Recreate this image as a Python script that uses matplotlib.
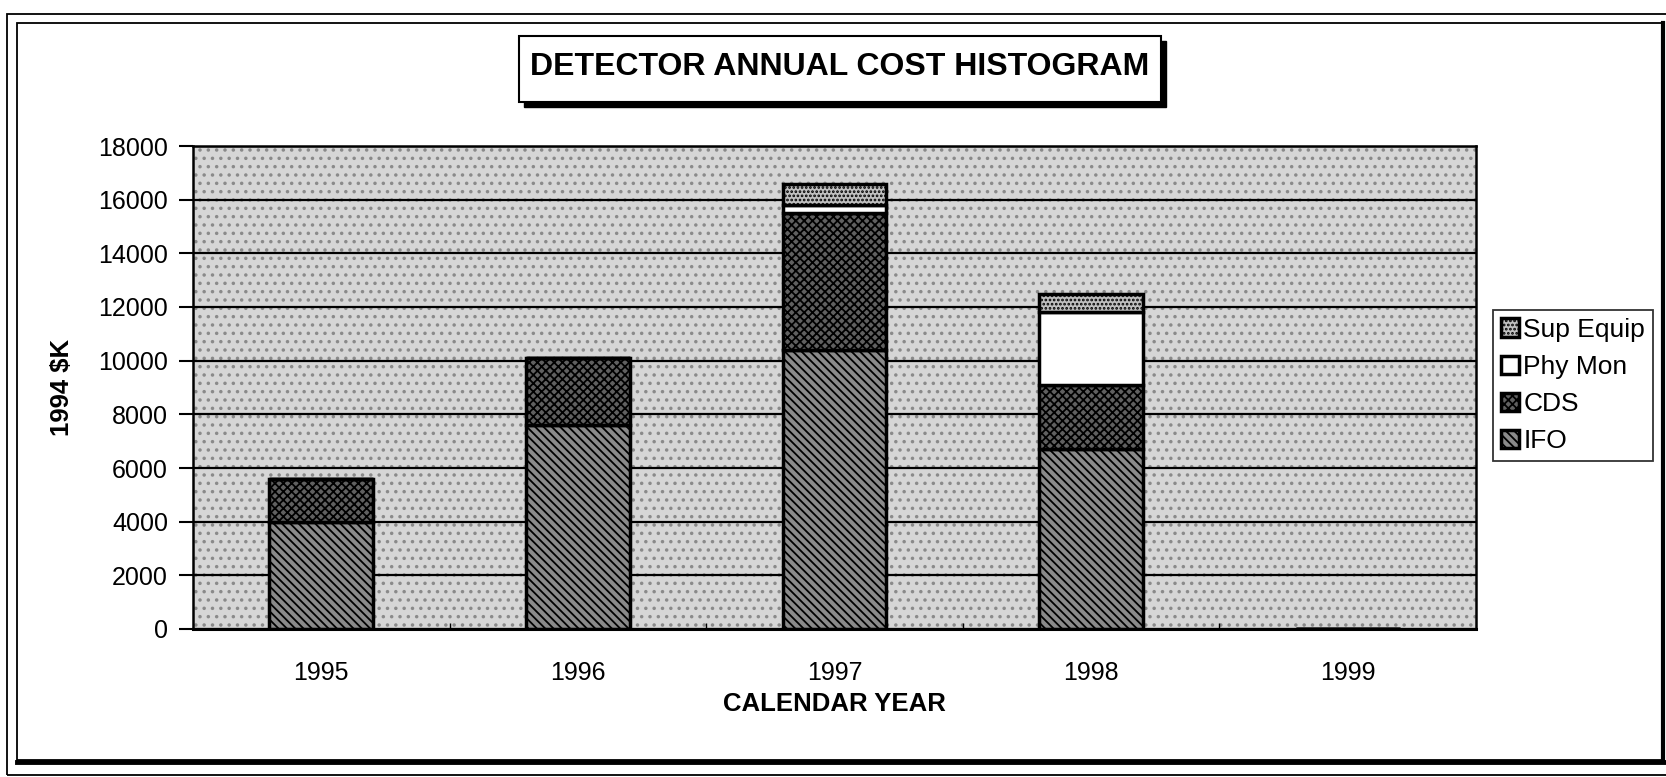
import matplotlib
matplotlib.use('Agg')
import matplotlib.pyplot as plt
from matplotlib.patches import Rectangle
from matplotlib.lines import Line2D
import numpy as np

plt.rcParams['font.family'] = ['Liberation Sans', 'DejaVu Sans']
plt.rcParams['hatch.linewidth'] = 1.3

years = ['1995', '1996', '1997', '1998', '1999']
ifo = [4000, 7600, 10400, 6700, 0]
cds = [1600, 2500, 5100, 2400, 0]
phy_mon = [0, 0, 300, 2700, 0]
sup_equip = [0, 0, 800, 700, 0]

W, H = 1666, 777
fig = plt.figure(figsize=(W / 100, H / 100), dpi=100)

def fx(x):
    return x / W

def fy(y):
    return 1 - y / H

# outer page frames
fig.add_artist(Rectangle((fx(7), fy(775)), fx(1680) - fx(7), fy(14) - fy(775),
                         transform=fig.transFigure, fill=False, lw=1.3, ec='black'))
fig.add_artist(Rectangle((fx(17), fy(760)), fx(1663) - fx(17), fy(23) - fy(760),
                         transform=fig.transFigure, fill=False, lw=1.3, ec='black'))
fig.add_artist(Line2D([fx(17), fx(1664)], [fy(762), fy(762)], transform=fig.transFigure,
                      lw=3.5, color='black'))
fig.add_artist(Line2D([fx(1663), fx(1663)], [fy(760), fy(23)], transform=fig.transFigure,
                      lw=3, color='black'))

ax = fig.add_axes([fx(193), fy(629), fx(1476) - fx(193), fy(146) - fy(629)])
ax.set_facecolor('#d6d6d6')
ax.add_patch(Rectangle((0, 0), 1, 1, transform=ax.transAxes, facecolor='none',
                       hatch='..', edgecolor='#8a8a8a', lw=0, zorder=0.2))

x = np.arange(len(years))
bw = 0.405
b1 = np.array(ifo)
b2 = b1 + np.array(cds)
b3 = b2 + np.array(phy_mon)

ax.bar(x, ifo, bw, color='#8a8a8a', hatch='\\\\\\\\', edgecolor='black', lw=2.5,
       label='IFO', zorder=2)
ax.bar(x, cds, bw, bottom=b1, color='#606060', hatch='xxxx', edgecolor='black', lw=2.5,
       label='CDS', zorder=2)
ax.bar(x, phy_mon, bw, bottom=b2, color='white', edgecolor='black', lw=2.5,
       label='Phy Mon', zorder=2)
ax.bar(x, sup_equip, bw, bottom=b3, color='#c0c0c0', hatch='....', edgecolor='black', lw=2.5,
       label='Sup Equip', zorder=2)

ax.set_xlim(-0.5, 4.5)
ax.set_ylim(0, 18000)
ax.set_yticks(np.arange(0, 18001, 2000))
ax.set_xticks(x)
ax.set_xticklabels(years)
ax.set_xticks(np.arange(0.5, 4.5, 1), minor=True)
ax.tick_params(axis='x', which='major', length=0, pad=23, labelsize=18)
ax.tick_params(axis='x', which='minor', length=4, direction='in', width=1)
ax.tick_params(axis='y', length=10, width=1.5, pad=8, labelsize=18)
for lab in ax.get_xticklabels() + ax.get_yticklabels():
    lab.set_fontweight('medium')
ax.grid(axis='y', color='black', lw=1.6)
ax.set_axisbelow(True)
for s in ax.spines.values():
    s.set_linewidth(1.8)
ax.spines['bottom'].set_linewidth(2.2)

ax.set_xlabel('CALENDAR YEAR', fontsize=18.5, fontweight='bold', va='center')
ax.xaxis.set_label_coords(0.5, -0.155)
ax.set_ylabel('1994 $K', fontsize=18.5, fontweight='bold', va='center')
ax.yaxis.set_label_coords(-0.102, 0.5)

# title box with shadow
tx0, tx1, ty0, ty1 = 519, 1161, 36, 102
fig.add_artist(Rectangle((fx(tx0 + 5), fy(ty1 + 5)), fx(tx1) - fx(tx0), fy(ty0) - fy(ty1),
                         transform=fig.transFigure, fc='black', ec='black', lw=1))
fig.add_artist(Rectangle((fx(tx0), fy(ty1)), fx(tx1) - fx(tx0), fy(ty0) - fy(ty1),
                         transform=fig.transFigure, fc='white', ec='black', lw=1.5))
fig.text(fx((tx0 + tx1) / 2), fy(67), 'DETECTOR ANNUAL COST HISTOGRAM',
         ha='center', va='center', fontsize=23, fontweight='bold')

handles, labels = ax.get_legend_handles_labels()
leg = ax.legend(handles[::-1], labels[::-1], loc='upper left',
                bbox_to_anchor=(fx(1493), fy(310)), bbox_transform=fig.transFigure,
                fontsize=19, frameon=True, fancybox=False, edgecolor='black',
                handlelength=0.7, handleheight=0.7, handletextpad=0.15,
                labelspacing=0.5, borderpad=0.3, borderaxespad=0)
leg.get_frame().set_linewidth(1.3)

fig.savefig('out.png', dpi=100)
